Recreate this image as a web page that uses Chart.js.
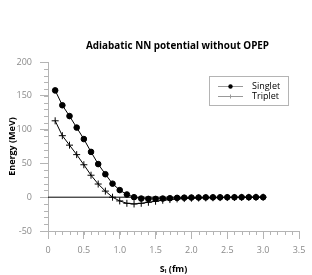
<!DOCTYPE html>
<html>
<head>
<meta charset="utf-8">
<script src="https://cdn.jsdelivr.net/npm/chart.js@4"></script>
<style>
  html, body { margin: 0; padding: 0; background: #fff; }
  #wrap { width: 312px; height: 275px; position: relative; }
</style>
</head>
<body>
<div id="wrap"><canvas id="nn"></canvas></div>
<script>
////////////////////////////////////////////////////////////////////////////////
// data
////////////////////////////////////////////////////////////////////////////////
const TITLE = "Adiabatic NN potential without OPEP";
const X_LABEL = "S\u2097 (fm)";
const Y_LABEL = "Energy (MeV)";
const SERIES_NAMES = ["Singlet", "Triplet"];

const sValues = [0.1, 0.2, 0.3, 0.4, 0.5, 0.6, 0.7, 0.8, 0.9, 1.0,
                 1.1, 1.2, 1.3, 1.4, 1.5, 1.6, 1.7, 1.8, 1.9, 2.0,
                 2.1, 2.2, 2.3, 2.4, 2.5, 2.6, 2.7, 2.8, 2.9, 3.0];
const singlet = [158, 136, 120, 103, 86, 67, 49, 34, 20, 10.5,
                 4, 0, -2, -2.5, -2.5, -2, -1.5, -1, -0.7, -0.5,
                 -0.4, -0.3, -0.2, -0.2, -0.1, -0.1, 0, 0, 0, 0];
const triplet = [113, 91, 77, 63, 48, 32.5, 19.5, 9, 0, -5.5,
                 -9, -10, -9, -7.5, -6, -4.5, -3.5, -2.5, -2, -1.5,
                 -1.2, -1, -0.8, -0.6, -0.5, -0.4, -0.3, -0.2, -0.1, 0];
const zeroLine = [[0, 0], [3, 0]];

const X_MIN = 0, X_MAX = 3.5, X_STEP = 0.5, X_MINOR = 0.1;
const Y_MIN = -50, Y_MAX = 200, Y_STEP = 50, Y_MINOR = 10;

const AXIS_GRAY = "#b4b4b4";
const TEXT_GRAY = "#8a8a8a";
const FONT = "'Open Sans', 'Noto Sans', sans-serif";

////////////////////////////////////////////////////////////////////////////////
// plugins
////////////////////////////////////////////////////////////////////////////////
// title centred over the plot area, not the whole canvas
const plotTitle = {
    id: "plotTitle",
    afterDraw(chart) {
        const {ctx, chartArea} = chart;
        ctx.save();
        ctx.font = "bold 9.9px " + FONT;
        ctx.fillStyle = "#000";
        ctx.textAlign = "center";
        ctx.textBaseline = "alphabetic";
        ctx.fillText(TITLE, (chartArea.left + chartArea.right) / 2 + 4, 49);
        ctx.restore();
    }
};

const minorTicks = {
    id: "minorTicks",
    afterDraw(chart) {
        const {ctx, scales: {x, y}} = chart;
        ctx.save();
        ctx.strokeStyle = AXIS_GRAY;
        ctx.lineWidth = 1;
        ctx.beginPath();
        for (let v = X_MIN; v <= X_MAX + 1e-9; v += X_MINOR) {
            const px = Math.round(x.getPixelForValue(v)) + 0.5;
            ctx.moveTo(px, y.bottom);
            ctx.lineTo(px, y.bottom + 4);
        }
        for (let v = Y_MIN; v <= Y_MAX + 1e-9; v += Y_MINOR) {
            const py = Math.round(y.getPixelForValue(v)) + 0.5;
            ctx.moveTo(x.left, py);
            ctx.lineTo(x.left - 4, py);
        }
        ctx.stroke();
        ctx.restore();
    }
};

const boxLegend = {
    id: "boxLegend",
    afterDraw(chart) {
        const ctx = chart.ctx;
        const bx = 209.5, by = 76.5, bw = 79, bh = 29;
        ctx.save();
        ctx.fillStyle = "#fff";
        ctx.fillRect(bx, by, bw, bh);
        ctx.strokeStyle = AXIS_GRAY;
        ctx.lineWidth = 1;
        ctx.strokeRect(bx, by, bw, bh);
        ctx.font = "9px " + FONT;
        ctx.textBaseline = "middle";
        SERIES_NAMES.forEach((name, i) => {
            const ry = Math.round(by + 9 + i * 10) + 0.5;
            ctx.strokeStyle = "#999";
            ctx.beginPath();
            ctx.moveTo(218, ry);
            ctx.lineTo(243, ry);
            ctx.stroke();
            if (i === 0) {
                ctx.fillStyle = "#000";
                ctx.beginPath();
                ctx.arc(230.5, ry, 2.2, 0, Math.PI * 2);
                ctx.fill();
            } else {
                ctx.beginPath();
                ctx.moveTo(230.5, ry - 2);
                ctx.lineTo(230.5, ry + 2);
                ctx.stroke();
            }
            ctx.fillStyle = "#000";
            ctx.fillText(name, 252, ry);
        });
        ctx.restore();
    }
};

////////////////////////////////////////////////////////////////////////////////
// chart
////////////////////////////////////////////////////////////////////////////////
const toPoints = (ys)=> sValues.map((s, i)=> ({x: s, y: ys[i]}));

const createChart = ()=>{
    const canvas = document.querySelector("#nn");
    return new Chart(canvas, {
        type: "scatter",
        data: {
            datasets: [
                {
                    label: "zero",
                    data: zeroLine.map(p => ({x: p[0], y: p[1]})),
                    showLine: true,
                    borderColor: "#000",
                    borderWidth: 1,
                    pointRadius: 0,
                },
                {
                    label: SERIES_NAMES[0],
                    data: toPoints(singlet),
                    showLine: true,
                    borderColor: "#000",
                    backgroundColor: "#000",
                    borderWidth: 1,
                    pointStyle: "circle",
                    pointRadius: 2.8,
                },
                {
                    label: SERIES_NAMES[1],
                    data: toPoints(triplet),
                    showLine: true,
                    borderColor: "#000",
                    backgroundColor: "#000",
                    borderWidth: 1,
                    pointStyle: "cross",
                    pointRadius: 3.5,
                    pointBorderWidth: 1,
                },
            ],
        },
        options: {
            responsive: true,
            maintainAspectRatio: false,
            animation: false,
            layout: { padding: { left: 0, right: 13, top: 62, bottom: 0 } },
            plugins: {
                legend: { display: false },
                tooltip: { enabled: false },
                title: { display: false },
            },
            scales: {
                x: {
                    type: "linear",
                    min: X_MIN, max: X_MAX,
                    border: { color: AXIS_GRAY },
                    grid: { drawOnChartArea: false, tickLength: 8, color: AXIS_GRAY },
                    ticks: {
                        stepSize: X_STEP,
                        color: TEXT_GRAY,
                        padding: 6,
                        maxRotation: 0,
                        font: { family: FONT, size: 9 },
                    },
                    title: {
                        display: true,
                        text: X_LABEL,
                        color: "#000",
                        font: { family: FONT, size: 9, weight: "bold" },
                        padding: { top: 7, bottom: 0 },
                    },
                    afterFit: (scale)=>{ scale.height = 44; },
                },
                y: {
                    type: "linear",
                    min: Y_MIN, max: Y_MAX,
                    border: { color: AXIS_GRAY },
                    grid: { drawOnChartArea: false, tickLength: 8, color: AXIS_GRAY },
                    ticks: {
                        stepSize: Y_STEP,
                        color: TEXT_GRAY,
                        padding: 8,
                        font: { family: FONT, size: 9 },
                    },
                    title: {
                        display: true,
                        text: Y_LABEL,
                        color: "#000",
                        font: { family: FONT, size: 9, weight: "bold" },
                        padding: { top: 7, bottom: 0 },
                    },
                    afterFit: (scale)=>{ scale.width = 48; },
                },
            },
        },
        plugins: [minorTicks, boxLegend, plotTitle],
    });
};

createChart();
</script>
</body>
</html>
